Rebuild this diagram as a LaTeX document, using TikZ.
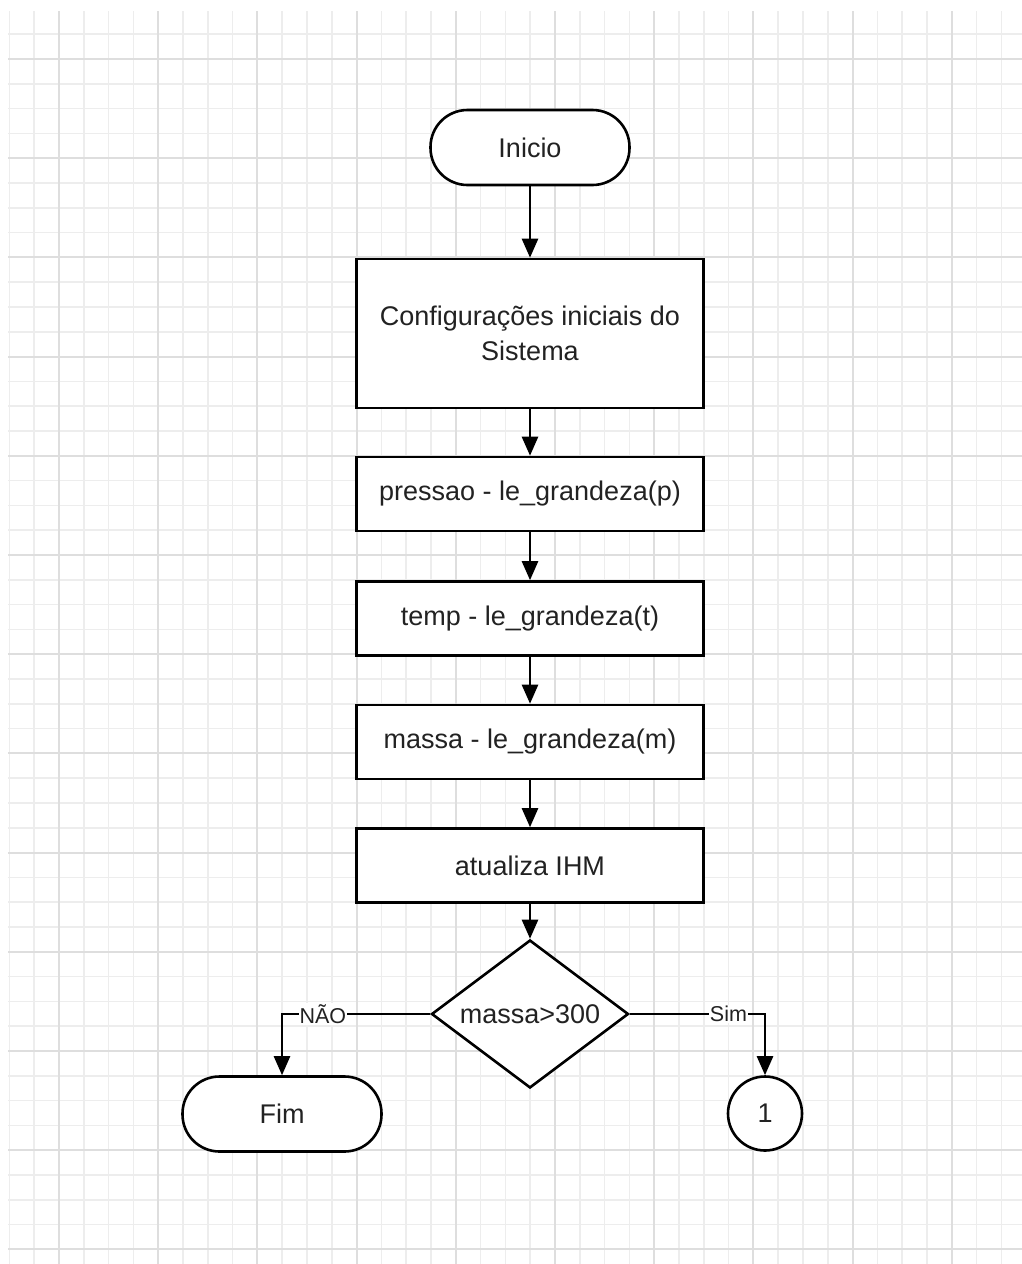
\documentclass[tikz,border=0pt]{standalone}
\usepackage{fontspec}
\setmainfont{Liberation Sans}
\usetikzlibrary{shapes.geometric,arrows.meta}
\definecolor{gridminor}{HTML}{EDEDED}
\definecolor{gridmajor}{HTML}{DEDEDE}
\definecolor{txt}{HTML}{222222}
\begin{document}
\begin{tikzpicture}[x=1pt,y=-1pt,
  mainfont/.style={font=\fontsize{27}{35}\selectfont, text=txt},
  term/.style={draw, line width=2.6pt, fill=white, rounded corners=37pt,
    minimum width=199pt, minimum height=75pt, inner sep=0pt, mainfont},
  proc/.style={draw, line width=2.6pt, fill=white, minimum width=347pt,
    minimum height=74pt, inner sep=0pt, align=center, mainfont},
  dec/.style={diamond, draw, line width=2.6pt, fill=white, shape aspect=1.34,
    inner sep=0pt, minimum width=197pt, minimum height=148pt, mainfont},
  conn/.style={circle, draw, line width=2.6pt, fill=white, minimum size=74pt,
    inner sep=0pt, mainfont},
  arr/.style={line width=2.6pt, -{Triangle[width=16pt,length=19pt]}},
  lbl/.style={fill=white, inner sep=1pt, font=\fontsize{21.5}{25}\selectfont, text=txt}
]
\useasboundingbox (0,0) rectangle (1022,1264);
\fill[white] (0,0) rectangle (1022,1264);
% grid
\begin{scope}
\clip (8,11) rectangle (1022,1264);
\foreach \k in {-2,...,38}{
  \draw[gridminor, line width=1.6pt] ({59+\k*24.8},11) -- ({59+\k*24.8},1264);}
\foreach \k in {-2,...,48}{
  \draw[gridminor, line width=1.6pt] (8,{59+\k*24.8}) -- (1022,{59+\k*24.8});}
\foreach \k in {0,4,...,36}{
  \draw[gridmajor, line width=2pt] ({59+\k*24.8},11) -- ({59+\k*24.8},1264);}
\foreach \k in {0,4,...,48}{
  \draw[gridmajor, line width=2pt] (8,{59+\k*24.8}) -- (1022,{59+\k*24.8});}
\end{scope}
% nodes
\node[term] (inicio) at (530,147.5) {Inicio};
\node[proc, minimum height=149pt] (config) at (530,333.5) {Configurações iniciais do\\Sistema};
\node[proc] (press) at (530,494) {pressao - le\_grandeza(p)};
\node[proc] (temp) at (530,618.5) {temp - le\_grandeza(t)};
\node[proc] (massa) at (530,742) {massa - le\_grandeza(m)};
\node[proc] (ihm) at (530,865.5) {atualiza IHM};
\node[dec] (dec) at (530,1014) {massa>300};
\node[term] (fim) at (282,1114) {Fim};
\node[conn] (one) at (765,1113.5) {1};
% connectors
\draw[arr] (inicio) -- (config);
\draw[arr] (config) -- (press);
\draw[arr] (press) -- (temp);
\draw[arr] (temp) -- (massa);
\draw[arr] (massa) -- (ihm);
\draw[arr] (ihm) -- (dec);
\draw[arr] (dec.west) -| node[lbl, pos=0.362] {NÃO} (fim.north);
\draw[arr] (dec.east) -| node[lbl, pos=0.365] {Sim} (one.north);
\end{tikzpicture}
\end{document}
